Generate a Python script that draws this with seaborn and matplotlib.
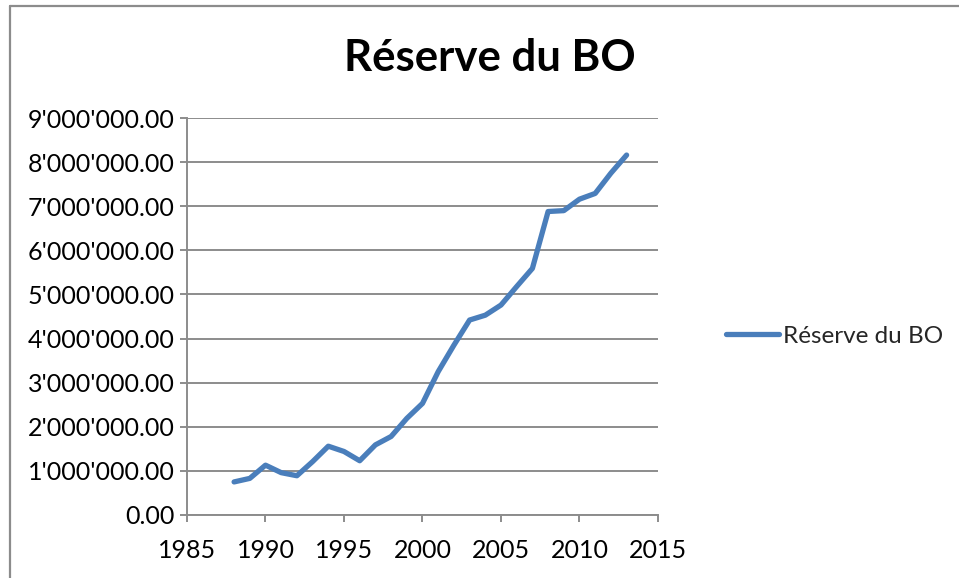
import matplotlib
matplotlib.use("Agg")
import matplotlib.pyplot as plt
from matplotlib.lines import Line2D
import seaborn as sns
import pandas as pd

years = [1988, 1989, 1990, 1991, 1992, 1993, 1994, 1995, 1996, 1997, 1998, 1999, 2000,
         2001, 2002, 2003, 2004, 2005, 2006, 2007, 2008, 2009, 2010, 2011, 2012, 2013]
reserve = [750000, 830000, 1130000, 960000, 890000, 1210000, 1560000, 1440000, 1230000,
           1590000, 1780000, 2190000, 2530000, 3250000, 3850000, 4420000, 4530000, 4760000,
           5180000, 5590000, 6880000, 6900000, 7160000, 7290000, 7750000, 8160000]
series_name = "Réserve du BO"
title_text = "Réserve du BO"
x_ticks = [1985, 1990, 1995, 2000, 2005, 2010, 2015]
y_ticks = [0, 1000000, 2000000, 3000000, 4000000, 5000000, 6000000, 7000000, 8000000, 9000000]

df = pd.DataFrame({"year": years, "value": reserve, "series": series_name})

sns.set_theme(style="white")
plt.rcParams["font.family"] = ["Lato", "DejaVu Sans"]

W, H = 959, 578
fig = plt.figure(figsize=(W / 100, H / 100), dpi=100)
fig.patch.set_facecolor("white")
ax = fig.add_axes([187 / W, 1 - 515 / H, (658 - 187) / W, (515 - 118) / H])

line_color = "#4A7EBB"
grid_color = "#8C8C8C"

sns.lineplot(data=df, x="year", y="value", ax=ax, color=line_color, linewidth=3.8,
             legend=False)
for ln in ax.get_lines():
    ln.set_solid_capstyle("round")
    ln.set_solid_joinstyle("round")

ax.set_xlim(1985, 2015)
ax.set_ylim(0, 9000000)
ax.set_xticks(x_ticks)
ax.set_yticks(y_ticks)
ax.set_xticklabels([str(t) for t in x_ticks])
ax.set_yticklabels([f"{v:,.2f}".replace(",", "'") for v in y_ticks])
ax.set_xlabel("")
ax.set_ylabel("")

ax.yaxis.grid(True, color=grid_color, linewidth=1.4)
ax.xaxis.grid(False)
ax.set_axisbelow(True)
for s in ["top", "right"]:
    ax.spines[s].set_visible(False)
for s in ["left", "bottom"]:
    ax.spines[s].set_color(grid_color)
    ax.spines[s].set_linewidth(1.4)

ax.tick_params(axis="both", which="major", direction="out", length=5, width=1.4,
               color=grid_color, labelsize=18, labelcolor="black")
ax.tick_params(axis="y", pad=4, left=True)
ax.tick_params(axis="x", pad=12, bottom=True)

fig.text(490 / W, 1 - 58 / H, title_text, ha="center", va="center",
         fontsize=31.5, fontweight="bold", color="black")

handle = Line2D([], [], color=line_color, linewidth=3.8, solid_capstyle="round")
fig.legend([handle], [series_name], loc="center left",
           bbox_to_anchor=(726 / W, 1 - 336 / H), frameon=False,
           fontsize=17.5, handlelength=2.2, handletextpad=0.15,
           borderpad=0, borderaxespad=0)

# chart area border (left and top edges visible)
fig.add_artist(Line2D([9.5 / W, 9.5 / W], [0, 1 - 6 / H], transform=fig.transFigure,
                      color="#8C8C8C", linewidth=1.6))
fig.add_artist(Line2D([9.5 / W, 1], [1 - 6 / H, 1 - 6 / H], transform=fig.transFigure,
                      color="#8C8C8C", linewidth=1.6))

fig.savefig("out.png", dpi=100, facecolor="white")
